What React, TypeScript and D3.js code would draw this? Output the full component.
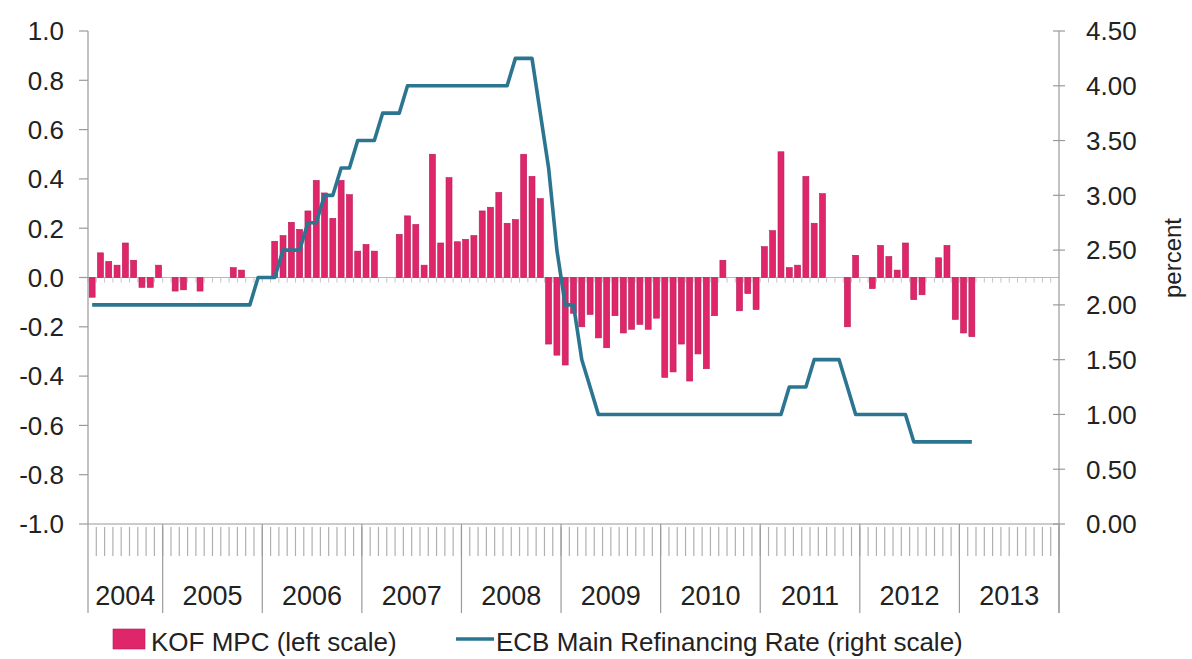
import * as d3 from 'd3'

// year groups on the category axis (2004 starts in April)
const years = ['2004', '2005', '2006', '2007', '2008', '2009', '2010', '2011', '2012', '2013']
const months: string[] = []
years.forEach((y) => {
  for (let m = 1; m <= 12; m++) {
    if (y === '2004' && m < 4) continue
    months.push(`${y}-${String(m).padStart(2, '0')}`)
  }
})

// KOF MPC, monthly, Apr 2004 - Feb 2013 (left scale)
const kofMpc = [
  -0.08, 0.10, 0.065, 0.05, 0.14, 0.07, -0.04, -0.04, 0.05, 0,
  -0.055, -0.05, 0, -0.055, 0, 0, 0, 0.04, 0.03, 0,
  0, 0, 0.147, 0.17, 0.224, 0.195, 0.27, 0.394, 0.343, 0.24,
  0.394, 0.336, 0.107, 0.134, 0.107, 0, 0, 0.175, 0.25, 0.215,
  0.05, 0.50, 0.14, 0.405, 0.145, 0.155, 0.17, 0.27, 0.285, 0.345,
  0.22, 0.235, 0.50, 0.41, 0.32, -0.27, -0.315, -0.355, -0.145, -0.2,
  -0.15, -0.245, -0.285, -0.155, -0.225, -0.21, -0.19, -0.21, -0.165, -0.405,
  -0.383, -0.27, -0.42, -0.31, -0.37, -0.155, 0.07, 0, -0.135, -0.065,
  -0.13, 0.125, 0.19, 0.51, 0.04, 0.05, 0.41, 0.22, 0.34, 0,
  0, -0.2, 0.09, 0, -0.045, 0.13, 0.085, 0.03, 0.14, -0.09,
  -0.07, 0, 0.08, 0.13, -0.17, -0.225, -0.24,
]

// ECB main refinancing rate, same months (right scale)
const ecbRate = [
  2.00, 2.00, 2.00, 2.00, 2.00, 2.00, 2.00, 2.00, 2.00, 2.00,
  2.00, 2.00, 2.00, 2.00, 2.00, 2.00, 2.00, 2.00, 2.00, 2.00,
  2.25, 2.25, 2.25, 2.50, 2.50, 2.50, 2.75, 2.75, 3.00, 3.00,
  3.25, 3.25, 3.50, 3.50, 3.50, 3.75, 3.75, 3.75, 4.00, 4.00,
  4.00, 4.00, 4.00, 4.00, 4.00, 4.00, 4.00, 4.00, 4.00, 4.00,
  4.00, 4.25, 4.25, 4.25, 3.75, 3.25, 2.50, 2.00, 2.00, 1.50,
  1.25, 1.00, 1.00, 1.00, 1.00, 1.00, 1.00, 1.00, 1.00, 1.00,
  1.00, 1.00, 1.00, 1.00, 1.00, 1.00, 1.00, 1.00, 1.00, 1.00,
  1.00, 1.00, 1.00, 1.00, 1.25, 1.25, 1.25, 1.50, 1.50, 1.50,
  1.50, 1.25, 1.00, 1.00, 1.00, 1.00, 1.00, 1.00, 1.00, 0.75,
  0.75, 0.75, 0.75, 0.75, 0.75, 0.75, 0.75,
]

const leftTicks = [1.0, 0.8, 0.6, 0.4, 0.2, 0.0, -0.2, -0.4, -0.6, -0.8, -1.0]
const rightTicks = [4.5, 4.0, 3.5, 3.0, 2.5, 2.0, 1.5, 1.0, 0.5, 0.0]

const W = 1192
const H = 659
const left = 88
const right = 1059
const top = 31
const bottom = 524
const font = 'Liberation Sans, Arial, sans-serif'
const barColor = '#e0266a'
const lineColor = '#2b7590'
const axisColor = '#9a9a9a'

export default function App() {
  const x = d3.scaleBand<string>().domain(months).range([left, right])
  const step = x.step()
  const cx = (i: number) => (x(months[i]) as number) + step / 2
  const yL = d3.scaleLinear().domain([-1, 1]).range([bottom, top])
  const yR = d3.scaleLinear().domain([0, 4.5]).range([bottom, top])

  const ecbLine = d3
    .line<number>()
    .x((_, i) => cx(i))
    .y((d) => yR(d))(ecbRate)

  // first month of each year -> boundary position
  const yearBounds = years.map((yr) => {
    const first = months.findIndex((m) => m.startsWith(yr))
    const last = months.length - 1 - [...months].reverse().findIndex((m) => m.startsWith(yr))
    return { yr, x0: x(months[first]) as number, x1: (x(months[last]) as number) + step }
  })

  const zero = yL(0)

  return (
    <svg width={W} height={H} style={{ position: 'absolute', left: 0, top: 0, background: '#fff' }} fontFamily={font}>
      {/* zero axis with small month ticks */}
      <line x1={left} x2={right} y1={zero} y2={zero} stroke="#b8b8b8" strokeWidth={1} />
      {months.map((m, i) => (
        <line key={'zt' + m} x1={left + i * step} x2={left + i * step} y1={zero} y2={zero + 5} stroke="#c4c4c4" strokeWidth={1} />
      ))}

      {/* bars */}
      {kofMpc.map((v, i) => (
        <rect
          key={'b' + i}
          x={(x(months[i]) as number) + step * 0.14}
          width={step * 0.72}
          y={Math.min(yL(v), zero)}
          height={Math.abs(yL(v) - zero)}
          fill={barColor}
          stroke="#b81a55"
          strokeWidth={0.6}
        />
      ))}

      {/* left axis */}
      <line x1={left} x2={left} y1={top} y2={613} stroke={axisColor} strokeWidth={1.2} />
      {leftTicks.map((t) => (
        <g key={'l' + t}>
          <line x1={left - 9} x2={left} y1={yL(t)} y2={yL(t)} stroke={axisColor} strokeWidth={1.2} />
          <text x={64} y={yL(t)} dy="0.36em" textAnchor="end" fontSize={26} fill="#222">
            {t.toFixed(1)}
          </text>
        </g>
      ))}

      {/* right axis */}
      <line x1={right} x2={right} y1={top} y2={613} stroke={axisColor} strokeWidth={1.2} />
      {rightTicks.map((t) => (
        <g key={'r' + t}>
          <line x1={right - 6} x2={right + 6} y1={yR(t)} y2={yR(t)} stroke={axisColor} strokeWidth={1.2} />
          <text x={1086} y={yR(t)} dy="0.36em" textAnchor="start" fontSize={26} fill="#222">
            {t.toFixed(2)}
          </text>
        </g>
      ))}
      <text transform={`translate(1181,258) rotate(-90)`} textAnchor="middle" fontSize={24} fill="#222">
        percent
      </text>

      {/* category axis */}
      <line x1={left} x2={right} y1={bottom} y2={bottom} stroke={axisColor} strokeWidth={1.2} />
      {months.map((m, i) => (
        <line key={'mt' + m} x1={left + (i + 1) * step} x2={left + (i + 1) * step} y1={bottom + 3} y2={bottom + 32} stroke="#b0b0b0" strokeWidth={1.2} />
      ))}
      {yearBounds.map((b) => (
        <g key={'y' + b.yr}>
          <line x1={b.x1} x2={b.x1} y1={bottom} y2={613} stroke={axisColor} strokeWidth={1.2} />
          <text x={(b.x0 + b.x1) / 2} y={605} textAnchor="middle" fontSize={27} fill="#222">
            {b.yr}
          </text>
        </g>
      ))}

      {/* ECB line */}
      <path d={ecbLine ?? ''} fill="none" stroke={lineColor} strokeWidth={3.6} strokeLinejoin="round" />

      {/* legend */}
      <rect x={113} y={629} width={32} height={20} fill={barColor} stroke="#b81a55" strokeWidth={0.6} />
      <text x={151} y={651} fontSize={26} fill="#222">
        KOF MPC (left scale)
      </text>
      <line x1={456} x2={494} y1={639} y2={639} stroke={lineColor} strokeWidth={3.6} />
      <text x={496} y={651} fontSize={26} fill="#222">
        ECB Main Refinancing Rate (right scale)
      </text>
    </svg>
  )
}
